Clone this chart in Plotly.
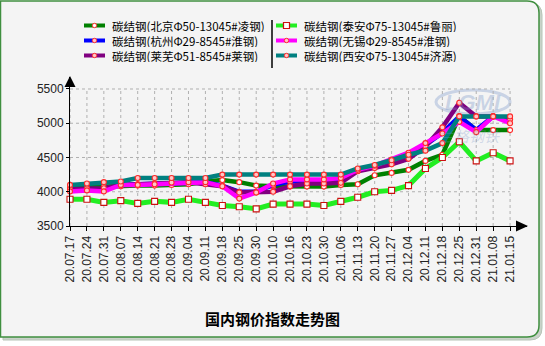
import plotly.graph_objects as go

# Weekly carbon structural steel price index, six markets (yuan/ton)
dates = ["20.07.17", "20.07.24", "20.07.31", "20.08.07", "20.08.14", "20.08.21",
         "20.08.28", "20.09.04", "20.09.11", "20.09.18", "20.09.25", "20.09.30",
         "20.10.10", "20.10.16", "20.10.23", "20.10.30", "20.11.06", "20.11.13",
         "20.11.20", "20.11.27", "20.12.04", "20.12.11", "20.12.18", "20.12.25",
         "20.12.31", "21.01.08", "21.01.15"]

beijing = [4060, 4070, 4075, 4080, 4090, 4090, 4100, 4110, 4150, 4170, 4140, 4090, 4080, 4075,
           4075, 4075, 4100, 4110, 4240, 4275, 4320, 4450, 4540, 5100, 4900, 4900, 4900]
hangzhou = [4030, 4040, 4030, 4100, 4110, 4120, 4130, 4140, 4140, 4090, 4000, 4000, 4100, 4150,
            4150, 4150, 4160, 4310, 4360, 4420, 4520, 4680, 4860, 5100, 4900, 5100, 5060]
laiwu = [4040, 4050, 4050, 4100, 4110, 4120, 4130, 4140, 4110, 4080, 3990, 3990, 4000, 4080,
         4120, 4120, 4130, 4300, 4345, 4400, 4480, 4660, 4940, 5300, 5100, 5100, 5060]
taian = [3890, 3890, 3845, 3870, 3830, 3860, 3845, 3890, 3845, 3800, 3780, 3750, 3820, 3820,
         3820, 3800, 3860, 3920, 4000, 4020, 4090, 4340, 4500, 4730, 4450, 4570, 4450]
wuxi = [4005, 4020, 4005, 4100, 4100, 4110, 4135, 4140, 4140, 4080, 3900, 3990, 4120, 4180,
        4180, 4180, 4200, 4320, 4380, 4470, 4570, 4710, 4850, 5020, 4870, 5100, 5000]
xian = [4100, 4120, 4140, 4150, 4200, 4200, 4200, 4200, 4200, 4250, 4250, 4250, 4250, 4250,
        4250, 4250, 4250, 4340, 4390, 4460, 4540, 4600, 4710, 5100, 5100, 5100, 5100]

names = ["碳结钢(北京Φ50-13045#凌钢)", "碳结钢(杭州Φ29-8545#淮钢)", "碳结钢(莱芜Φ51-8545#莱钢)",
         "碳结钢(泰安Φ75-13045#鲁丽)", "碳结钢(无锡Φ29-8545#淮钢)", "碳结钢(西安Φ75-13045#济源)"]
series = [beijing, hangzhou, laiwu, taian, wuxi, xian]
colors = ["#008000", "#0000ff", "#800080", "#22ee22", "#ff00ff", "#008080"]
symbols = ["circle", "circle", "circle", "square", "circle", "circle"]
yticks = [3500, 4000, 4500, 5000, 5500]

W, H = 545, 346
L, R, T, B = 70, 18, 77, 120
PW, PH = W - L - R, H - T - B


def px(x):
    return (x - L) / PW


def py(y):
    return (H - B - y) / PH


fig = go.Figure()

for name, vals, col, sym in zip(names, series, colors, symbols):
    is_sq = sym == "square"
    fig.add_trace(go.Scatter(
        x=dates, y=vals, name=name, mode="lines+markers", cliponaxis=False,
        line=dict(color=col, width=5 if is_sq else 4.5),
        marker=dict(symbol=sym, size=6 if is_sq else 5,
                    color="#ffffff" if is_sq or col == "#008000" else "#ffc8c8",
                    line=dict(color="#cc1010" if is_sq else "#ff2a2a", width=1.1)),
        showlegend=False))

shapes = []

# outer rounded panel with shadow
r = 12
def panel(x0, y0, x1, y1):
    return (f"M {px(x0)},{py(y0)} L {px(x1 - r)},{py(y0)} Q {px(x1)},{py(y0)} {px(x1)},{py(y0 + r)} "
            f"L {px(x1)},{py(y1 - r)} Q {px(x1)},{py(y1)} {px(x1 - r)},{py(y1)} "
            f"L {px(x0)},{py(y1)} Z")

shapes.append(dict(type="path", xref="paper", yref="paper", path=panel(3, 3, 542, 340),
                   fillcolor="#c9d3c9", line=dict(color="#b8c4b8", width=1), layer="below"))
shapes.append(dict(type="path", xref="paper", yref="paper", path=panel(0.5, 1, 539, 337),
                   fillcolor="#f4f4f4", line=dict(color="#3f8f3f", width=1.5), layer="below"))

# dotted grid bounded by the tick range
for d in dates:
    shapes.append(dict(type="line", xref="x", yref="y", x0=d, x1=d, y0=yticks[0], y1=yticks[-1],
                       line=dict(color="#b0b0b0", width=1, dash="dot"), layer="below"))
for v in yticks[1:]:
    shapes.append(dict(type="line", xref="x", yref="y", x0=dates[0], x1=dates[-1], y0=v, y1=v,
                       line=dict(color="#b0b0b0", width=1, dash="dot"), layer="below"))

# axis arrowheads
shapes.append(dict(type="path", xref="paper", yref="paper",
                   path=f"M {px(70)},{py(76)} L {px(64.5)},{py(87)} L {px(75.5)},{py(87)} Z",
                   fillcolor="#000", line=dict(width=0)))
shapes.append(dict(type="path", xref="paper", yref="paper",
                   path=f"M {px(528)},{py(226)} L {px(516)},{py(220.5)} L {px(516)},{py(231.5)} Z",
                   fillcolor="#000", line=dict(width=0)))

annotations = []

# two-column key
rows = [25.5, 40.5, 55.5]
cols = [(84, 105, 111), (276, 297, 303)]
for k, (name, col, sym) in enumerate(zip(names, colors, symbols)):
    c = 0 if k < 3 else 1
    yy = rows[k % 3]
    x0, x1, xt = cols[c]
    shapes.append(dict(type="line", xref="paper", yref="paper", x0=px(x0), x1=px(x1),
                       y0=py(yy), y1=py(yy), line=dict(color=col, width=4)))
    cx = (x0 + x1) / 2
    if sym == "square":
        shapes.append(dict(type="rect", xref="paper", yref="paper", x0=px(cx - 3), x1=px(cx + 3),
                           y0=py(yy + 3), y1=py(yy - 3), fillcolor="#ffffff",
                           line=dict(color="#cc1010", width=1.2)))
    else:
        shapes.append(dict(type="circle", xref="paper", yref="paper", x0=px(cx - 2.2), x1=px(cx + 2.2),
                           y0=py(yy + 2.2), y1=py(yy - 2.2),
                           fillcolor="#ffffff" if col == "#008000" else "#ffc8c8",
                           line=dict(color="#ff2a2a", width=1)))
    annotations.append(dict(xref="paper", yref="paper", x=px(xt), y=py(yy), text=name,
                            showarrow=False, xanchor="left", yanchor="middle", height=13,
                            borderpad=0,
                            font=dict(family="Noto Sans CJK SC", size=11.5, color="#000")))
shapes.append(dict(type="line", xref="paper", yref="paper", x0=px(272), x1=px(272),
                   y0=py(20), y1=py(68), line=dict(color="#000", width=1.5)))

# faint watermark
shapes.append(dict(type="circle", xref="paper", yref="paper", x0=px(436), x1=px(510),
                   y0=py(90), y1=py(114), line=dict(color="rgba(120,150,200,0.35)", width=3),
                   layer="below"))
annotations.append(dict(xref="paper", yref="paper", x=px(473), y=py(102), text="<i><b>LGMI</b></i>",
                        showarrow=False, xanchor="center", yanchor="middle",
                        font=dict(family="Liberation Sans", size=22, color="rgba(120,150,200,0.35)")))
annotations.append(dict(xref="paper", yref="paper", x=px(470), y=py(135), text="<i>兰格钢铁</i>",
                        showarrow=False, xanchor="center", yanchor="middle",
                        font=dict(family="Noto Sans CJK SC", size=15, color="rgba(120,150,200,0.3)")))

# chart title
annotations.append(dict(xref="paper", yref="paper", x=px(272), y=py(318), text="<b>国内钢价指数走势图</b>",
                        showarrow=False, xanchor="center", yanchor="middle",
                        font=dict(family="Noto Sans CJK SC", size=15, color="#000")))

fig.update_layout(
    width=W, height=H, margin=dict(l=L, r=R, t=T, b=B),
    paper_bgcolor="#ffffff", plot_bgcolor="rgba(0,0,0,0)",
    shapes=shapes, annotations=annotations, showlegend=False,
    xaxis=dict(type="category", range=[0, 27.0], showgrid=False, zeroline=False,
               showline=True, linecolor="#000", linewidth=1,
               ticks="outside", ticklen=4, tickcolor="#000", tickangle=-90,
               tickfont=dict(family="Liberation Sans", size=12, color="#222")),
    yaxis=dict(range=[3500, 5675], tickvals=yticks, showgrid=False, zeroline=False,
               showline=True, linecolor="#000", linewidth=1,
               ticks="outside", ticklen=3, tickcolor="#000",
               tickfont=dict(family="Liberation Sans", size=12, color="#222")),
)

fig.write_html("out.html")
